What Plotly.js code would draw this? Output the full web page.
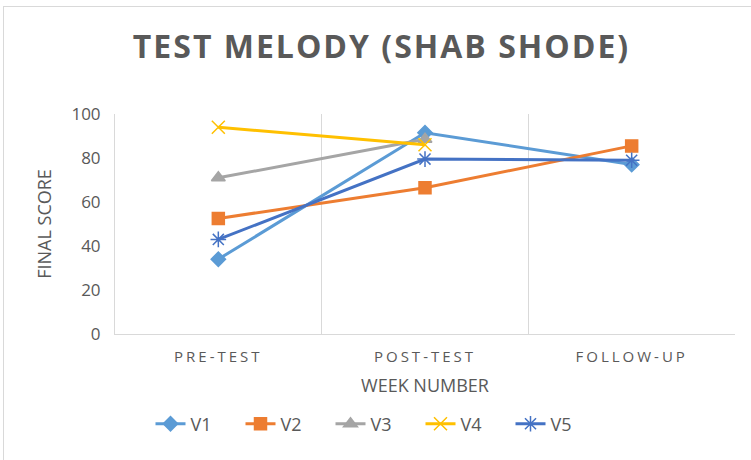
<!DOCTYPE html>
<html>
<head>
<meta charset="utf-8">
<script src="https://cdn.plot.ly/plotly-3.0.1.min.js"></script>
<style>
html,body{margin:0;padding:0;background:#fff;overflow:hidden;}
#frame{position:absolute;left:3px;top:6px;width:800px;height:500px;border:1px solid #d9d9d9;box-sizing:border-box;}
#chart{position:absolute;left:0;top:0;width:751px;height:460px;}
#chart .gtitle{letter-spacing:2px;}
#chart .xtick text{letter-spacing:3px;}
</style>
</head>
<body>
<div id="frame"></div>
<div id="chart"></div>
<script>
var categories = ["PRE-TEST", "POST-TEST", "FOLLOW-UP"];
var seriesNames = ["V1", "V2", "V3", "V4", "V5"];
var v1 = [34, 91.5, 77];
var v2 = [52.5, 66.5, 85.5];
var v3 = [71, 88.5, null];
var v4 = [94, 86, null];
var v5 = [43, 79.5, 79];
var yTicks = [0, 20, 40, 60, 80, 100];

var values = [v1, v2, v3, v4, v5];
var colors = ["#5B9BD5", "#ED7D31", "#A5A5A5", "#FFC000", "#4472C4"];
var symbols = ["diamond", "square", "triangle-up", "x-thin-open", "asterisk-open"];
var sizes = [11, 12, 12, 13, 13];

var traces = values.map(function(vals, i){
  return {
    type: "scatter",
    mode: "lines+markers",
    name: seriesNames[i],
    x: categories,
    y: vals,
    line: {color: colors[i], width: 3},
    marker: {symbol: symbols[i], size: sizes[i], color: colors[i], line: {color: colors[i], width: 1.5}},
    connectgaps: false
  };
});

var layout = {
  width: 751, height: 460,
  paper_bgcolor: "rgba(0,0,0,0)",
  plot_bgcolor: "rgba(0,0,0,0)",
  margin: {l: 115, r: 16, t: 114, b: 126},
  font: {family: "Open Sans, sans-serif", color: "#595959"},
  title: {
    text: "<b>TEST MELODY (SHAB SHODE)</b>",
    x: 0.508, xref: "container", xanchor: "center",
    y: 1 - 47/460, yref: "container", yanchor: "middle",
    font: {size: 32, color: "#595959", family: "Open Sans, sans-serif"}
  },
  xaxis: {
    type: "category",
    range: [-0.5, 2.5],
    tickson: "boundaries",
    showgrid: true, gridcolor: "#d9d9d9", gridwidth: 1,
    showline: true, linecolor: "#d9d9d9", linewidth: 1,
    ticks: "outside", ticklen: 20, tickcolor: "rgba(0,0,0,0)",
    ticklabelstandoff: 9,
    tickfont: {size: 15, color: "#595959"},
    title: {text: "WEEK NUMBER", font: {size: 18, color: "#595959"}, standoff: 14},
    zeroline: false, fixedrange: true
  },
  yaxis: {
    range: [0, 100],
    tickvals: yTicks,
    showgrid: false,
    showline: true, linecolor: "#d9d9d9", linewidth: 1,
    ticks: "outside", ticklen: 10, tickcolor: "rgba(0,0,0,0)",
    tickfont: {size: 17, color: "#595959"},
    title: {text: "FINAL SCORE", font: {size: 18, color: "#595959"}, standoff: 15},
    zeroline: false, fixedrange: true
  },
  legend: {
    orientation: "h",
    x: 0.5, xref: "container", xanchor: "center",
    y: 1 - 424/460, yref: "container", yanchor: "middle",
    font: {size: 18, color: "#595959"},
    entrywidth: 45,
    itemwidth: 30
  },
  showlegend: true
};

Plotly.newPlot("chart", traces, layout, {staticPlot: true, displayModeBar: false});
</script>
</body>
</html>
